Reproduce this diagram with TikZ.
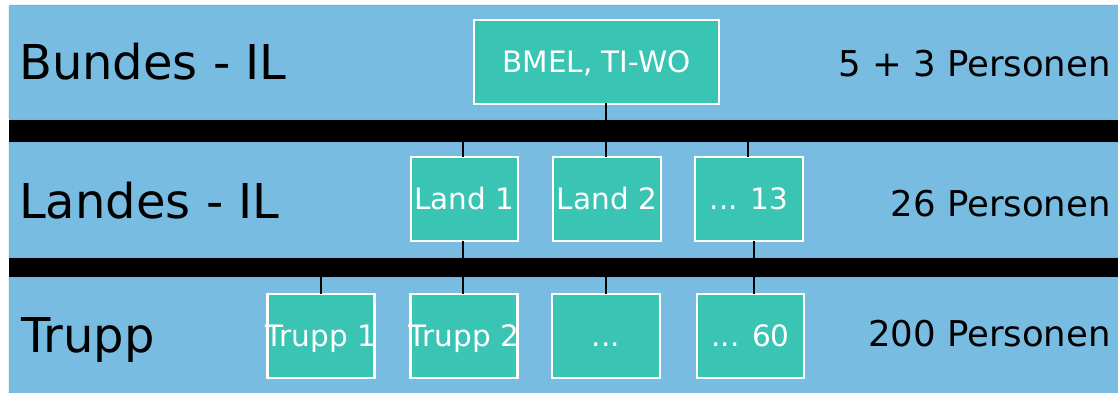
\documentclass[tikz,border=0pt]{standalone}
\usepackage{fontspec}
\setmainfont{DejaVu Sans}
\definecolor{bandblue}{RGB}{120,188,226}
\definecolor{boxteal}{RGB}{58,196,180}
\begin{document}
\begin{tikzpicture}[x=1pt,y=-1pt,
  band/.style={fill=bandblue,draw=bandblue!80!black,line width=0.4pt,rounded corners=1.5pt},
  bar/.style={fill=black,draw=none,inner sep=0pt,minimum width=1109pt},
  unit/.style={draw=white,line width=2.2pt,fill=boxteal,inner sep=0pt,text=white,
    font=\fontsize{29.5}{30}\selectfont,text height=21.5pt,text depth=0pt,minimum height=84pt},
  levellabel/.style={anchor=base west,inner sep=0pt,font=\fontsize{48}{48}\selectfont},
  countlabel/.style={anchor=base east,inner sep=0pt,font=\fontsize{35.5}{36}\selectfont},
  link/.style={line width=1.8pt,draw=black}]
\useasboundingbox (0,0) rectangle (1118,392);
\fill[white] (0,0) rectangle (1118,392);
% bands
\draw[band] (9,5) rectangle (1120,120);
\draw[band] (9,142) rectangle (1120,258);
\draw[band] (9,277) rectangle (1120,394);
% bars
\node[bar,minimum height=22pt] (bar1) at (563.5,131) {};
\node[bar,minimum height=19pt] (bar2) at (563.5,267.5) {};
% level labels
\node[levellabel] (lb) at (19,79) {Bundes - IL};
\node[levellabel] (ll) at (19,218) {Landes - IL};
\node[levellabel] (lt) at (21,352) {Trupp};
\node[countlabel] (cb) at (1111,76) {5 + 3 Personen};
\node[countlabel] (cl) at (1111,216) {26 Personen};
\node[countlabel] (ct) at (1111,346) {200 Personen};
% connector columns
\coordinate (c1) at (321,0);
\coordinate (c2) at (463,0);
\coordinate (c3) at (606,0);
\coordinate (c4) at (748,0);
\coordinate (c5) at (754,0);
% boxes
\node[unit,minimum width=245pt] (bmel) at (596.5,62) {BMEL, TI-WO};
\node[unit,minimum width=107pt] (land1) at (464.5,199) {Land 1};
\node[unit,minimum width=108pt] (land2) at (607,199) {Land 2};
\node[unit,minimum width=108pt] (land3) at (749,199) {... 13};
\node[unit,minimum width=107pt] (tr1) at (321,336) {\makebox[107pt]{Trupp 1}};
\node[unit,minimum width=107pt] (tr2) at (464,336) {\makebox[107pt]{Trupp 2}};
\node[unit,minimum width=108pt] (tr3) at (606,336) {...};
\node[unit,minimum width=107pt] (tr4) at (750.5,336) {... 60};
% connectors
\draw[link] ([yshift=2pt]c3 |- bmel.south) -- (c3 |- bar1.north);
\draw[link] (c2 |- bar1.south) -- ([yshift=-1.5pt]c2 |- land1.north);
\draw[link] (c3 |- bar1.south) -- ([yshift=-1.5pt]c3 |- land2.north);
\draw[link] (c4 |- bar1.south) -- ([yshift=-1.5pt]c4 |- land3.north);
\draw[link] ([yshift=1.5pt]c2 |- land1.south) -- (c2 |- bar2.north);
\draw[link] ([yshift=1.5pt]c5 |- land3.south) -- (c5 |- bar2.north);
\draw[link] (c1 |- bar2.south) -- ([yshift=-1.5pt]c1 |- tr1.north);
\draw[link] (c2 |- bar2.south) -- ([yshift=-1.5pt]c2 |- tr2.north);
\draw[link] (c3 |- bar2.south) -- ([yshift=-1.5pt]c3 |- tr3.north);
\draw[link] (c5 |- bar2.south) -- ([yshift=-1.5pt]c5 |- tr4.north);
\end{tikzpicture}
\end{document}
